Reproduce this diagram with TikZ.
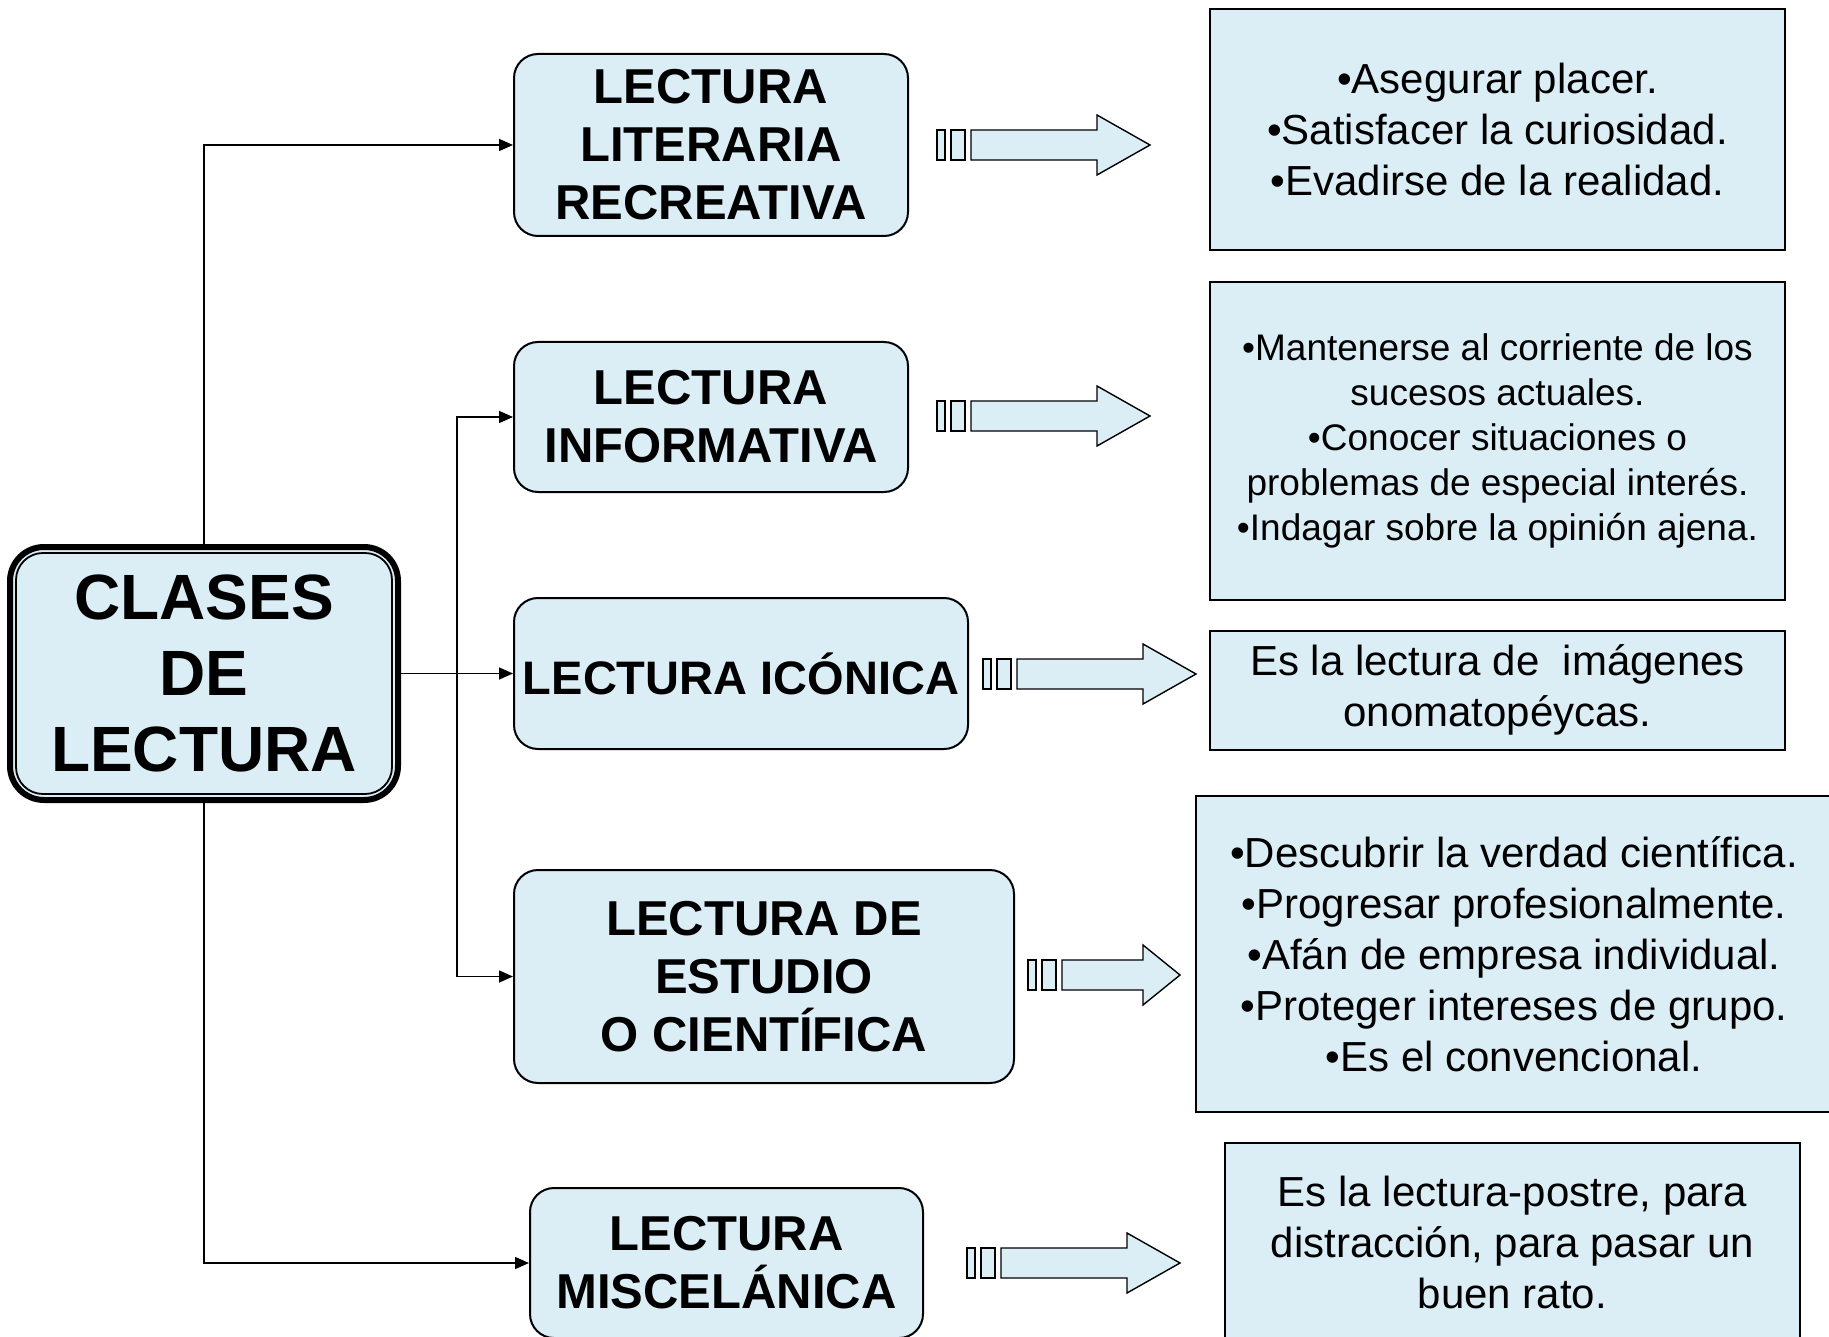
\documentclass[tikz,border=0pt]{standalone}
\usepackage{fontspec}
\setmainfont{Liberation Sans}
\usetikzlibrary{arrows.meta,calc}
\definecolor{lb}{RGB}{219,237,245}
\newcommand\stripearrow[4]{%
  \begin{scope}[shift={(#1,#2)}]
    \draw[barrow] (0,-15) rectangle (8,15);
    \draw[barrow] (14,-15) rectangle (28,15);
    \draw[barrow] (34,-15) -- (#3,-15) -- (#3,-30) -- (#4,0) -- (#3,30) -- (#3,15) -- (34,15) -- cycle;
  \end{scope}}
\begin{document}
\begin{tikzpicture}[x=1pt,y=-1pt,
  lbox/.style={draw, line width=2pt, fill=lb, rounded corners=24pt, inner sep=0pt, align=center, font=\bfseries\fontsize{49}{58}\selectfont},
  rbox/.style={draw, line width=2pt, fill=lb, inner sep=0pt, align=center, font=\fontsize{42}{51}\selectfont},
  conn/.style={line width=1.6pt, -{Triangle[length=14pt,width=12pt]}},
  barrow/.style={draw, line width=1.4pt, fill=lb, line join=miter}]
\useasboundingbox (0,0) rectangle (1829,1337);

% central box
\node[draw, line width=6pt, fill=lb, rounded corners=34pt, minimum width=388pt, minimum height=253pt, inner sep=0pt, align=center, font=\bfseries\fontsize{64}{76}\selectfont] (c) at (204,673.5) {CLASES\\DE\\LECTURA};
\draw[line width=1.8pt, rounded corners=27pt] ([shift={(9,9)}]c.north west) rectangle ([shift={(-9,-9)}]c.south east);

% left-column boxes
\node[lbox, minimum width=394pt, minimum height=182pt] (b1) at (711,145) {LECTURA\\LITERARIA\\RECREATIVA};
\node[lbox, minimum width=394pt, minimum height=150pt] (b2) at (711,417) {LECTURA\\INFORMATIVA};
\node[lbox, font=\bfseries\fontsize{47}{56}\selectfont, minimum width=454pt, minimum height=151pt] (b3) at (741,673.5) {LECTURA ICÓNICA};
\node[lbox, minimum width=500pt, minimum height=213pt] (b4) at (764,976.5) {LECTURA DE\\ESTUDIO\\O CIENTÍFICA};
\node[lbox, minimum width=393pt, minimum height=150pt] (b5) at (726.5,1263) {LECTURA\\MISCELÁNICA};

% right-column boxes
\node[rbox, minimum width=575pt, minimum height=241pt] (r1) at (1497.5,129.5) {\raisebox{0pt}{}•Asegurar placer.\\•Satisfacer la curiosidad.\\•Evadirse de la realidad.};
\node[rbox, font=\fontsize{37}{45}\selectfont, minimum width=575pt, minimum height=317pt] (r2) at (1497.5,441) {•Mantenerse al corriente de los\\sucesos actuales.\\•Conocer situaciones o\\problemas de especial interés.\\•Indagar sobre la opinión ajena.};
\node[rbox, minimum width=575pt, minimum height=119pt] (r3) at (1497.5,690) {Es la lectura de \ imágenes\\onomatopéycas.};
\node[rbox, minimum width=636pt, minimum height=316pt] (r4) at (1514,954) {•Descubrir la verdad científica.\\•Progresar profesionalmente.\\•Afán de empresa individual.\\•Proteger intereses de grupo.\\•Es el convencional.};
\node[rbox, minimum width=575pt, minimum height=198pt] (r5) at (1512.5,1242) {Es la lectura-postre, para\\distracción, para pasar un\\buen rato.};

% connectors
\draw[conn] (c.north) |- (b1.west);
\draw[conn] (c.east) -- (b3.west);
\draw[conn] (c.south) |- (b5.west);
\coordinate (j) at ($(c.east)!0.5!(b3.west)$);
\draw[conn] (j) |- (b2.west);
\draw[conn] (j) |- (b4.west);

% striped block arrows
\stripearrow{937}{145}{160}{213}
\stripearrow{937}{416}{160}{213}
\stripearrow{983}{674}{160}{213}
\stripearrow{1028}{975}{115}{152}
\stripearrow{967}{1263}{160}{213}
\end{tikzpicture}
\end{document}
